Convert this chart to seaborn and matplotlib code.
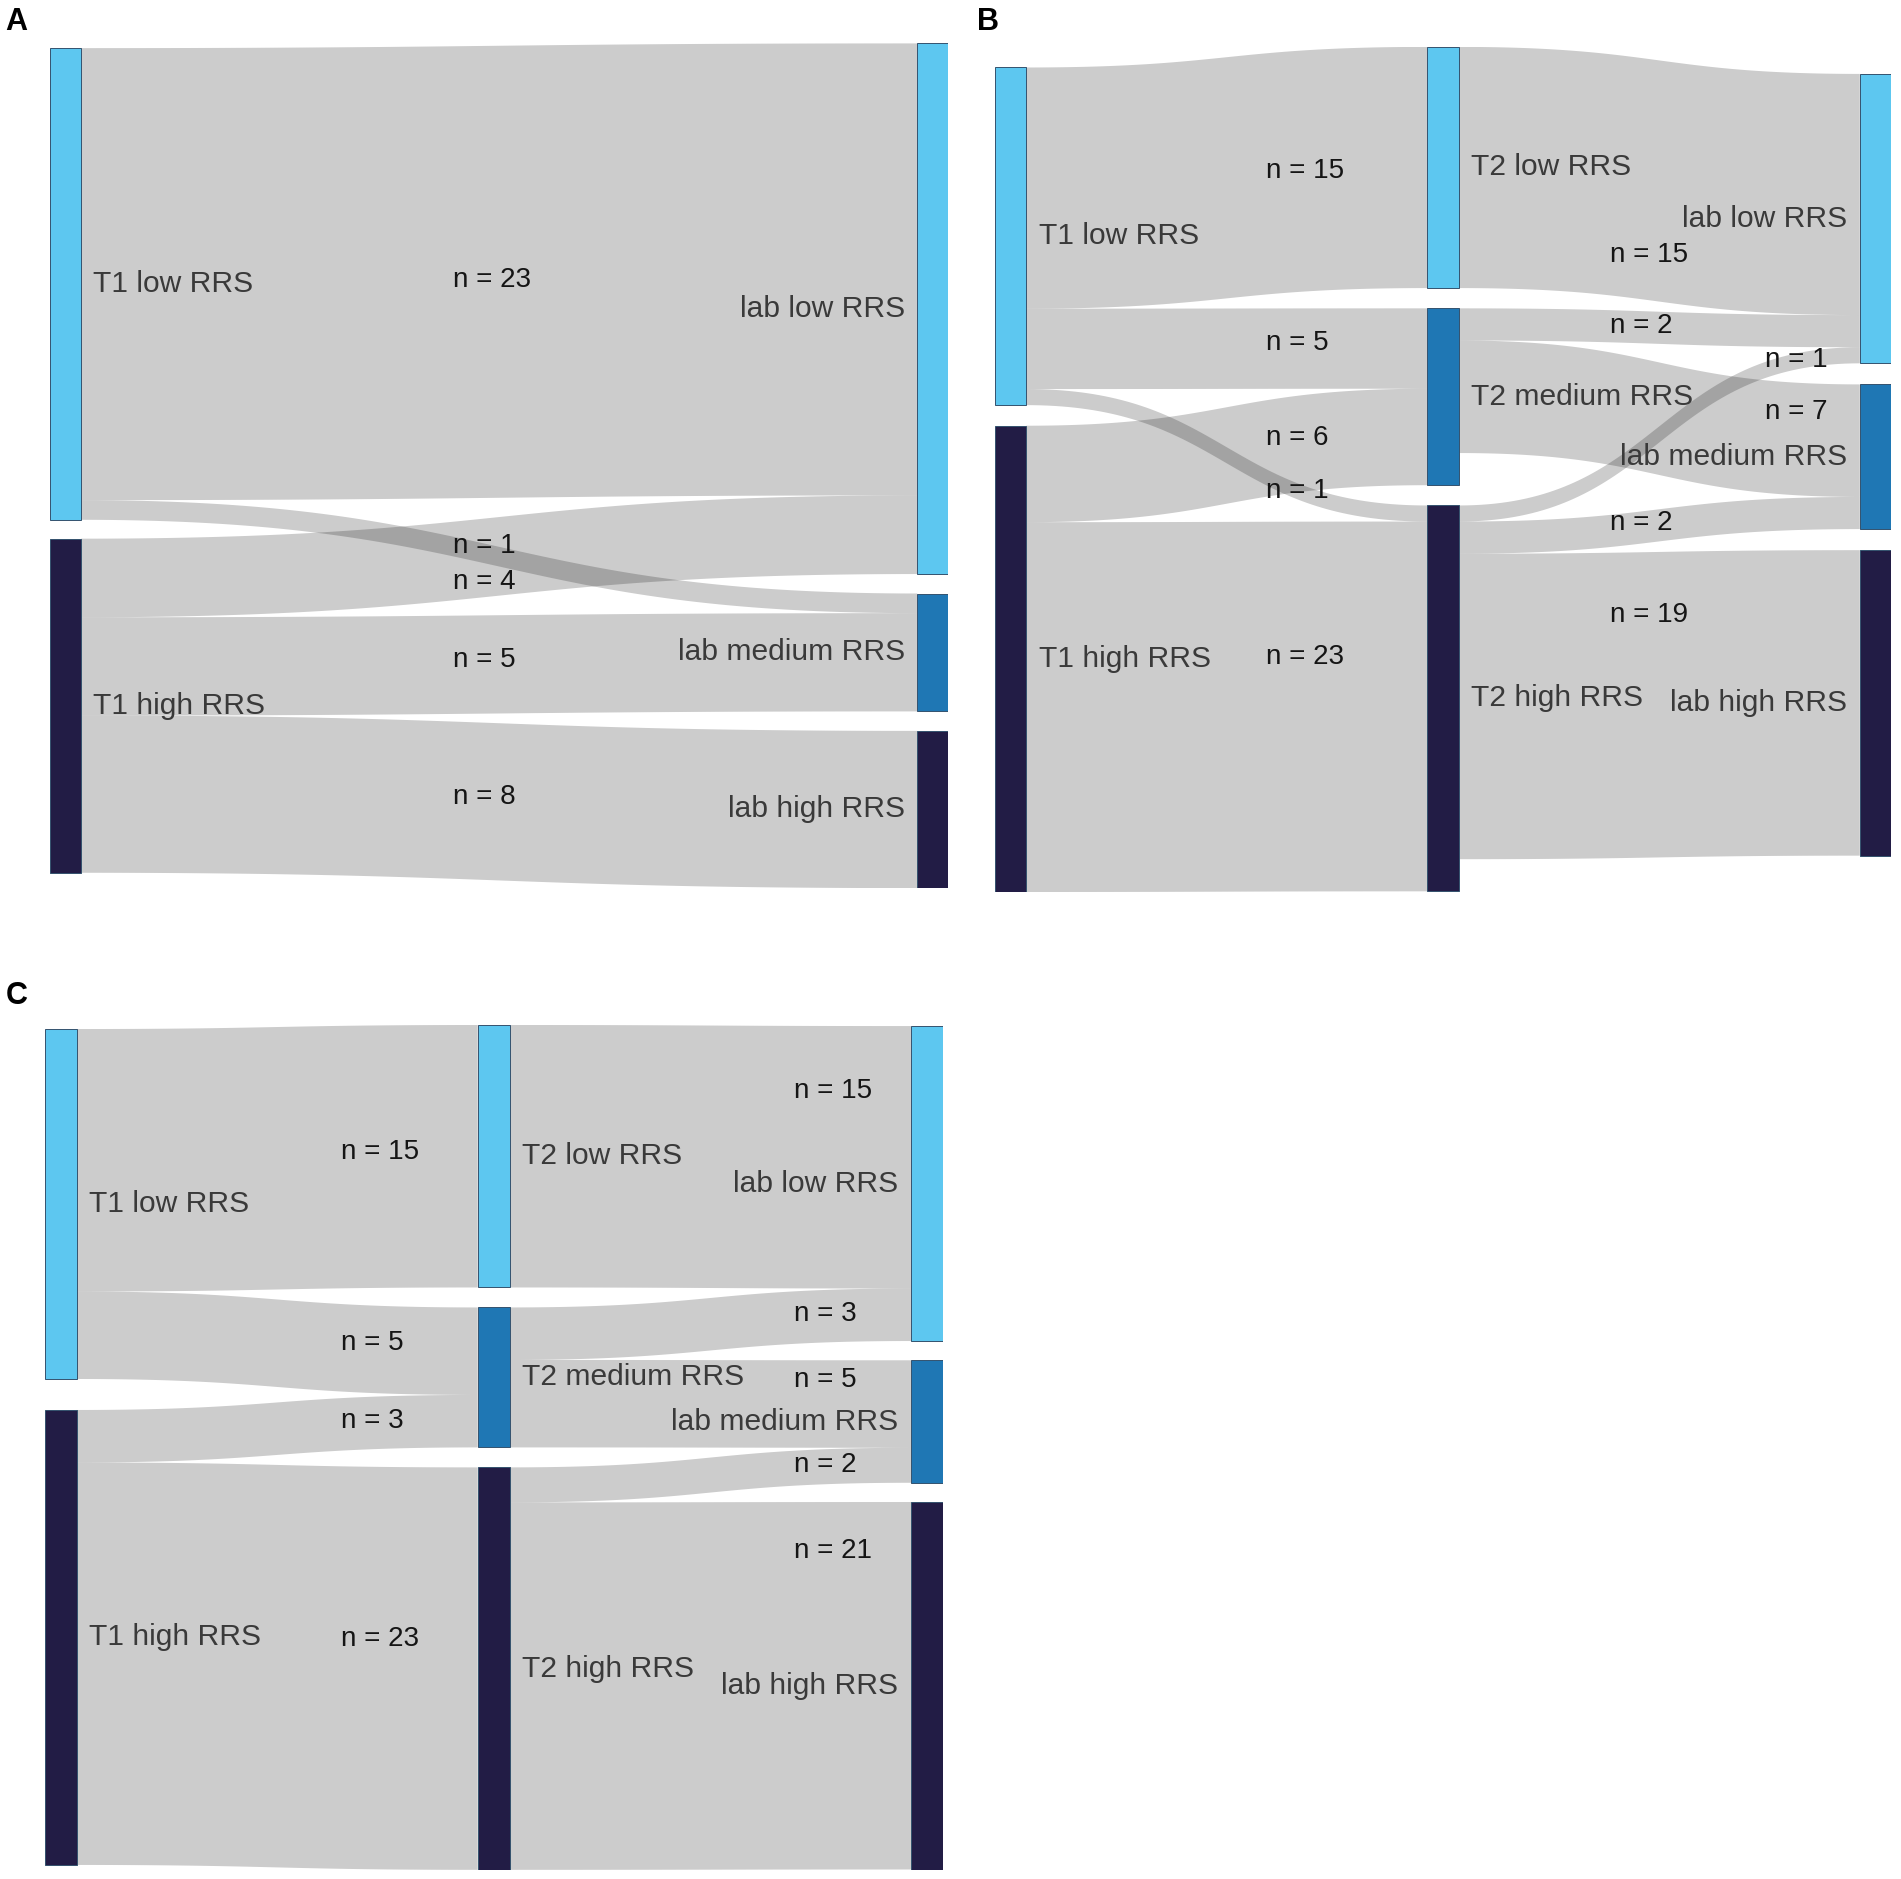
import seaborn as sns
import matplotlib.pyplot as plt
import numpy as np

# ---- data ----
# panel A: T1 -> lab
a_columns = [["T1 low RRS", "T1 high RRS"],
             ["lab low RRS", "lab medium RRS", "lab high RRS"]]
a_source = ["T1 low RRS", "T1 low RRS", "T1 high RRS", "T1 high RRS", "T1 high RRS"]
a_target = ["lab low RRS", "lab medium RRS", "lab low RRS", "lab medium RRS", "lab high RRS"]
a_n = [23, 1, 4, 5, 8]

# panel B: T1 -> T2 -> lab
b_columns = [["T1 low RRS", "T1 high RRS"],
             ["T2 low RRS", "T2 medium RRS", "T2 high RRS"],
             ["lab low RRS", "lab medium RRS", "lab high RRS"]]
b_source = ["T1 low RRS", "T1 low RRS", "T1 low RRS", "T1 high RRS", "T1 high RRS",
            "T2 low RRS", "T2 medium RRS", "T2 medium RRS",
            "T2 high RRS", "T2 high RRS", "T2 high RRS"]
b_target = ["T2 low RRS", "T2 medium RRS", "T2 high RRS", "T2 medium RRS", "T2 high RRS",
            "lab low RRS", "lab low RRS", "lab medium RRS",
            "lab low RRS", "lab medium RRS", "lab high RRS"]
b_n = [15, 5, 1, 6, 23, 15, 2, 7, 1, 2, 19]

# panel C: T1 -> T2 -> lab
c_columns = [["T1 low RRS", "T1 high RRS"],
             ["T2 low RRS", "T2 medium RRS", "T2 high RRS"],
             ["lab low RRS", "lab medium RRS", "lab high RRS"]]
c_source = ["T1 low RRS", "T1 low RRS", "T1 high RRS", "T1 high RRS",
            "T2 low RRS", "T2 medium RRS", "T2 medium RRS", "T2 high RRS", "T2 high RRS"]
c_target = ["T2 low RRS", "T2 medium RRS", "T2 medium RRS", "T2 high RRS",
            "lab low RRS", "lab low RRS", "lab medium RRS", "lab medium RRS", "lab high RRS"]
c_n = [15, 5, 3, 23, 15, 3, 5, 2, 21]

# ---- style / layout ----
node_colors = {"low": "#5DC7F0", "medium": "#1F77B4", "high": "#221C45"}
link_color = (0, 0, 0, 0.2)
FIG_W, FIG_H = 1901, 1879

# box in pixels (left, top, right, bottom), column offsets/pads in persons
layout = {
    "A": dict(box=(50.2, 43.4, 948.0, 888.5), node_w=0.0354, height=43.0,
              offsets=[0.24, 0.0], pads=[0.96, 0.99],
              label_xy=[(0.465, 12.05), (0.465, 25.56), (0.465, 27.41),
                        (0.465, 31.35), (0.465, 38.33)],
              letter=(5, 30)),
    "B": dict(box=(994.8, 46.9, 1891.3, 892.0), node_w=0.0728, height=52.56,
              offsets=[1.28, 0.0, 1.68], pads=[1.28, 1.26, 1.31],
              label_xy=[(0.626, 7.72), (0.626, 18.42), (0.626, 27.62), (0.626, 24.3),
                        (0.626, 37.95), (1.4225, 12.92), (1.4225, 17.36), (1.7815, 22.72),
                        (1.7815, 19.47), (1.4225, 29.58), (1.4225, 35.31)],
              letter=(977, 30)),
    "C": dict(box=(44.5, 1025.0, 943.0, 1869.5), node_w=0.0739, height=48.26,
              offsets=[0.23, 0.0, 0.06], pads=[1.77, 1.14, 1.10],
              label_xy=[(0.684, 7.25), (0.684, 18.19), (0.684, 22.62), (0.684, 35.1),
                        (1.730, 3.78), (1.730, 16.53), (1.730, 20.27), (1.730, 25.12),
                        (1.730, 30.04)],
              letter=(6, 1004)),
}

sns.set_theme(style="white")
plt.rcParams["font.family"] = ["Liberation Sans", "DejaVu Sans"]

NODE_FONT = 21.6
N_FONT = 20


def level(name):
    for key in ("low", "medium", "high"):
        if f" {key} " in name:
            return key


def link_path(x0, x1, ya, yb):
    t = np.linspace(0, 1, 80)
    xm = (x0 + x1) / 2
    x = (1 - t) ** 3 * x0 + 3 * (1 - t) ** 2 * t * xm + 3 * (1 - t) * t ** 2 * xm + t ** 3 * x1
    s = 3 * t ** 2 - 2 * t ** 3
    return x, ya + (yb - ya) * s


def sankey(ax, columns, source, target, n, lay):
    col_of, order = {}, {}
    for c, names in enumerate(columns):
        for k, name in enumerate(names):
            col_of[name] = c
            order[name] = k
    inflow = {name: 0 for name in col_of}
    outflow = {name: 0 for name in col_of}
    for s, t, v in zip(source, target, n):
        outflow[s] += v
        inflow[t] += v
    size = {name: max(inflow[name], outflow[name]) for name in col_of}

    top = {}
    for c, names in enumerate(columns):
        y = lay["offsets"][c]
        for name in names:
            top[name] = y
            y += size[name] + lay["pads"][c]

    links = list(zip(source, target, n))
    src_y, tgt_y = {}, {}
    for name in col_of:
        y = top[name]
        for i in sorted([i for i, l in enumerate(links) if l[0] == name],
                        key=lambda i: order[links[i][1]]):
            src_y[i] = y
            y += links[i][2]
        y = top[name]
        for i in sorted([i for i, l in enumerate(links) if l[1] == name],
                        key=lambda i: order[links[i][0]]):
            tgt_y[i] = y
            y += links[i][2]

    w = lay["node_w"]
    for i, (s, t, v) in enumerate(links):
        x0 = col_of[s] + w
        x1 = col_of[t]
        xs, ytop = link_path(x0, x1, src_y[i], tgt_y[i])
        _, ybot = link_path(x0, x1, src_y[i] + v, tgt_y[i] + v)
        ax.fill(np.concatenate([xs, xs[::-1]]), np.concatenate([ytop, ybot[::-1]]),
                color=link_color, lw=0, zorder=1)

    last = len(columns) - 1
    for name, c in col_of.items():
        ax.bar(c, size[name], bottom=top[name], width=w, align="edge",
               color=node_colors[level(name)], edgecolor="#34526e", linewidth=0.7, zorder=2)
        yc = top[name] + size[name] / 2
        if c < last:
            ax.annotate(name, (c + w, yc), xytext=(9, 0), textcoords="offset points",
                        ha="left", va="center", fontsize=NODE_FONT, color="#3a3a3a", zorder=3)
        else:
            ax.annotate(name, (c, yc), xytext=(-9, 0), textcoords="offset points",
                        ha="right", va="center", fontsize=NODE_FONT, color="#3a3a3a", zorder=3)

    for (x, y), v in zip(lay["label_xy"], n):
        ax.text(x, y, f"n = {v}", ha="left", va="center", fontsize=N_FONT,
                color="#151515", zorder=3)

    ax.set_xlim(0, last + w)
    ax.set_ylim(lay["height"], 0)
    ax.axis("off")


fig = plt.figure(figsize=(FIG_W / 100, FIG_H / 100), dpi=100)

panels = {"A": (a_columns, a_source, a_target, a_n),
          "B": (b_columns, b_source, b_target, b_n),
          "C": (c_columns, c_source, c_target, c_n)}

for key, (columns, source, target, n) in panels.items():
    lay = layout[key]
    l, t, r, b = lay["box"]
    ax = fig.add_axes([l / FIG_W, 1 - b / FIG_H, (r - l) / FIG_W, (b - t) / FIG_H])
    sankey(ax, columns, source, target, n, lay)
    lx, ly = lay["letter"]
    fig.text(lx / FIG_W, 1 - ly / FIG_H, key, fontsize=22, fontweight="bold",
             ha="left", va="baseline", color="black")

fig.savefig("out.png", dpi=100, facecolor="white")
